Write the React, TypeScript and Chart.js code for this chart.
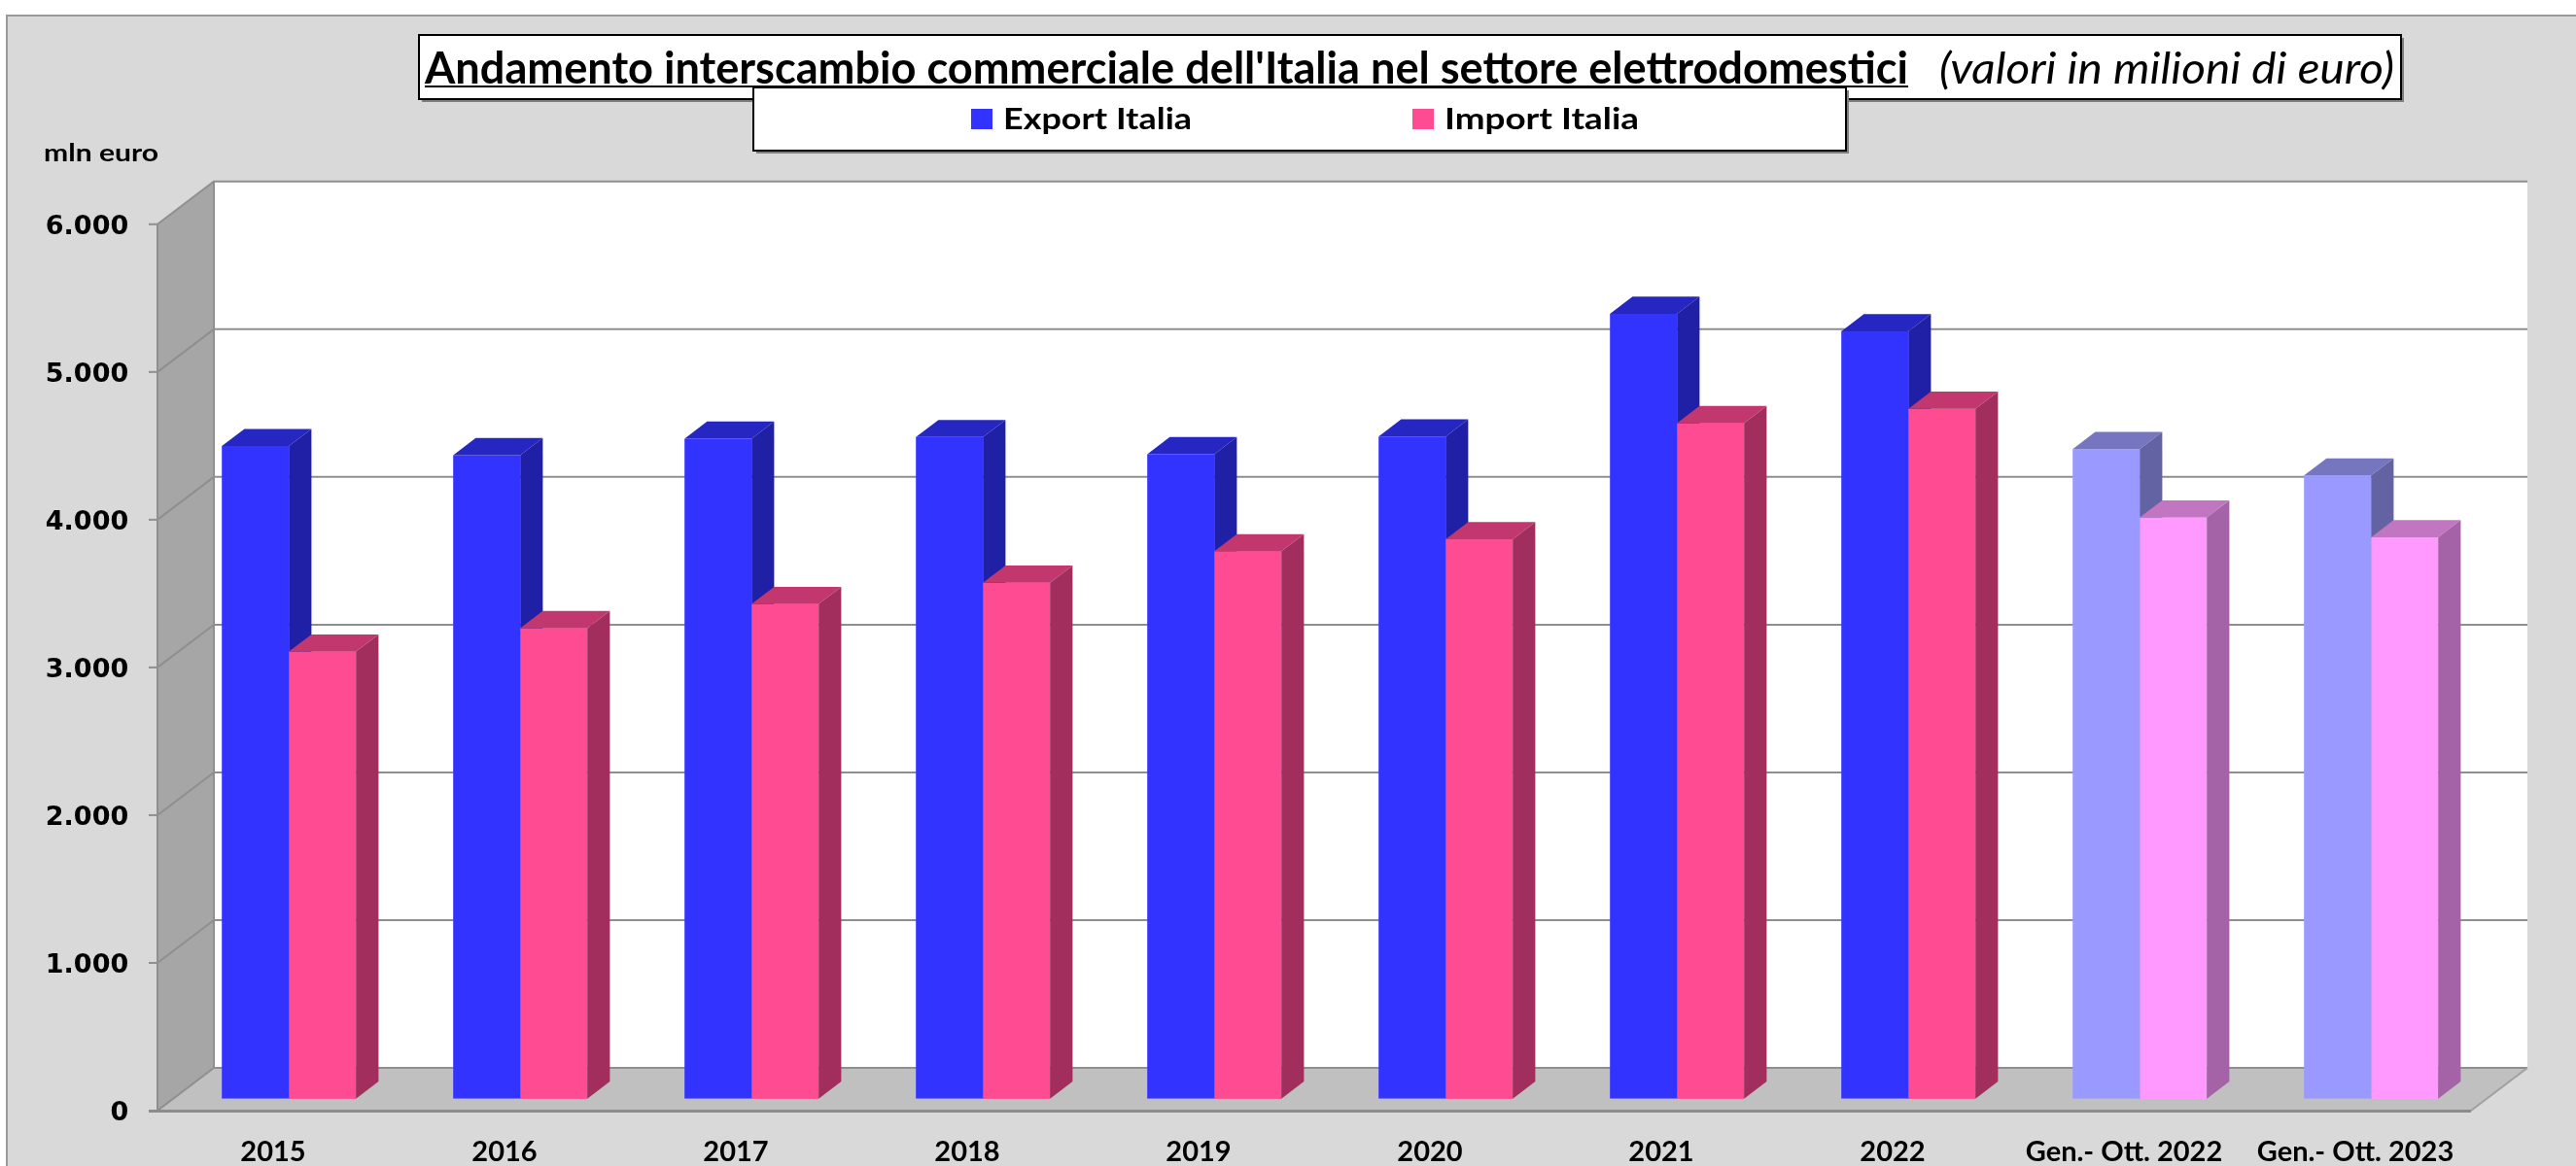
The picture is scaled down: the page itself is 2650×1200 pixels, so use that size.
import React, { useEffect, useRef } from "react";
import { Chart, registerables } from "chart.js";

Chart.register(...registerables);

// ---------------- data ----------------
const categories = [
  "2015",
  "2016",
  "2017",
  "2018",
  "2019",
  "2020",
  "2021",
  "2022",
  "Gen.- Ott. 2022",
  "Gen.- Ott. 2023",
];
const exportItalia = [4418, 4356, 4468, 4479, 4363, 4483, 5313, 5195, 4397, 4219];
const importItalia = [3027, 3185, 3349, 3493, 3706, 3787, 4573, 4670, 3934, 3800];
const seriesLabels = ["Export Italia", "Import Italia"];
const titleMain = "Andamento interscambio commerciale dell'Italia nel settore elettrodomestici";
const titleNote = "(valori in milioni di euro)";
const yUnit = "mln euro";
const yMax = 6000;
const yStep = 1000;
const partialFrom = 8; // index from which the (lighter) partial-year bars start

// colours: [front, top, side] for full-year / partial-year bars
const exportFull = ["#3333FF", "#2626C2", "#2020A6"];
const exportPart = ["#9999FF", "#7575C0", "#6363A3"];
const importFull = ["#FF4B91", "#C2386E", "#A22E5E"];
const importPart = ["#FF99FF", "#C276C2", "#A363A6"];

// ---------------- geometry (pixels) ----------------
const W = 2650;
const H = 1200;
const FRONT = { dx: -16.2, dy: 12.3 }; // front axis plane relative to bar front plane
const BACK = { dx: 41.8, dy: -31.7 }; // back wall relative to bar front plane
const BAR = { dx: 23.2, dy: -17.6 }; // bar depth

function fmt(v: number) {
  return String(v).replace(/\B(?=(\d{3})+(?!\d))/g, ".");
}

function fitText(
  ctx: CanvasRenderingContext2D,
  text: string,
  x: number,
  y: number,
  font: string,
  width: number
) {
  ctx.save();
  ctx.font = font;
  ctx.textAlign = "left";
  ctx.textBaseline = "alphabetic";
  const w = ctx.measureText(text).width;
  ctx.translate(x, y);
  ctx.scale(width / w, 1);
  ctx.fillText(text, 0, 0);
  ctx.restore();
}

function poly(ctx: CanvasRenderingContext2D, pts: number[][], fill: string) {
  ctx.beginPath();
  ctx.moveTo(pts[0][0], pts[0][1]);
  for (let i = 1; i < pts.length; i++) ctx.lineTo(pts[i][0], pts[i][1]);
  ctx.closePath();
  ctx.fillStyle = fill;
  ctx.fill();
}

function colorsFor(dsIndex: number, i: number) {
  if (dsIndex === 0) return i >= partialFrom ? exportPart : exportFull;
  return i >= partialFrom ? importPart : importFull;
}

function drawFaces(ctx: CanvasRenderingContext2D, el: any, c: string[]) {
  const { x, y, base, width } = el.getProps(["x", "y", "base", "width"], true);
  const l = x - width / 2;
  const r = x + width / 2;
  poly(
    ctx,
    [
      [l, y],
      [r, y],
      [r + BAR.dx, y + BAR.dy],
      [l + BAR.dx, y + BAR.dy],
    ],
    c[1]
  );
  poly(
    ctx,
    [
      [r, y],
      [r + BAR.dx, y + BAR.dy],
      [r + BAR.dx, base + BAR.dy],
      [r, base],
    ],
    c[2]
  );
}

const scenePlugin = {
  id: "scene3d",
  beforeDraw(chart: any) {
    const { ctx, chartArea: ca, scales } = chart;
    const y = scales.y;
    ctx.save();
    // outer area
    ctx.fillStyle = "#ffffff";
    ctx.fillRect(0, 0, W, H);
    ctx.fillStyle = "#d9d9d9";
    ctx.fillRect(6, 15, W - 6, H - 15);
    ctx.strokeStyle = "#9a9a9a";
    ctx.lineWidth = 2;
    ctx.beginPath();
    ctx.moveTo(7, H);
    ctx.lineTo(7, 16);
    ctx.lineTo(W, 16);
    ctx.stroke();

    const y0 = y.getPixelForValue(0);
    const yTop = y.getPixelForValue(yMax);
    const fl = ca.left + FRONT.dx;
    const fr = ca.right + FRONT.dx;
    const bl = ca.left + BACK.dx;
    const br = ca.right + BACK.dx;

    // back wall
    ctx.fillStyle = "#ffffff";
    ctx.fillRect(bl, yTop + BACK.dy, br - bl, y0 - yTop);
    // left wall
    poly(
      ctx,
      [
        [fl, yTop + FRONT.dy],
        [fl, y0 + FRONT.dy],
        [bl, y0 + BACK.dy],
        [bl, yTop + BACK.dy],
      ],
      "#a6a6a6"
    );
    // floor
    poly(
      ctx,
      [
        [fl, y0 + FRONT.dy],
        [fr, y0 + FRONT.dy],
        [br, y0 + BACK.dy],
        [bl, y0 + BACK.dy],
      ],
      "#c0c0c0"
    );

    // gridlines (back wall + left wall)
    ctx.strokeStyle = "#8f8f8f";
    ctx.lineWidth = 2;
    for (let v = 0; v <= yMax; v += yStep) {
      const py = y.getPixelForValue(v);
      ctx.beginPath();
      ctx.moveTo(fl, py + FRONT.dy);
      ctx.lineTo(bl, py + BACK.dy);
      if (v > 0) ctx.lineTo(br, py + BACK.dy);
      ctx.stroke();
      ctx.beginPath();
      ctx.moveTo(fl - 9, py + FRONT.dy);
      ctx.lineTo(fl, py + FRONT.dy);
      ctx.stroke();
    }
    ctx.beginPath();
    ctx.moveTo(bl, yTop + BACK.dy);
    ctx.lineTo(bl, y0 + BACK.dy);
    ctx.lineTo(br, y0 + BACK.dy);
    ctx.stroke();
    ctx.beginPath();
    ctx.moveTo(fl, yTop + FRONT.dy);
    ctx.lineTo(fl, y0 + FRONT.dy);
    ctx.stroke();
    ctx.strokeStyle = "#a0a0a0";
    ctx.beginPath();
    ctx.moveTo(fr, y0 + FRONT.dy);
    ctx.lineTo(br, y0 + BACK.dy);
    ctx.stroke();
    ctx.strokeStyle = "#8c8c8c";
    ctx.lineWidth = 3;
    ctx.beginPath();
    ctx.moveTo(fl - 9, y0 + FRONT.dy + 0.5);
    ctx.lineTo(fr, y0 + FRONT.dy + 0.5);
    ctx.stroke();
    ctx.restore();
  },
  afterDatasetsDraw(chart: any) {
    const { ctx } = chart;
    const m0 = chart.getDatasetMeta(0);
    const m1 = chart.getDatasetMeta(1);
    ctx.save();
    m0.data.forEach((el: any, i: number) => {
      drawFaces(ctx, el, colorsFor(0, i));
      const el1 = m1.data[i];
      if (el1) {
        el1.draw(ctx, chart.chartArea);
        drawFaces(ctx, el1, colorsFor(1, i));
      }
    });
    ctx.restore();
  },
  afterDraw(chart: any) {
    const { ctx } = chart;
    ctx.save();
    // title box
    ctx.fillStyle = "#7f7f7f";
    ctx.fillRect(434, 39, 2039, 66);
    ctx.fillStyle = "#ffffff";
    ctx.fillRect(431, 36, 2039, 66);
    ctx.strokeStyle = "#000000";
    ctx.lineWidth = 2;
    ctx.strokeRect(431, 36, 2039, 66);
    ctx.fillStyle = "#000000";
    fitText(ctx, titleMain, 437, 86, "bold 45px Lato", 1526);
    ctx.fillRect(437, 88, 1526, 2);
    fitText(ctx, titleNote, 1995, 86, "italic 45px Lato", 468);

    // legend box
    ctx.fillStyle = "#7f7f7f";
    ctx.fillRect(778, 93, 1124, 65);
    ctx.fillStyle = "#ffffff";
    ctx.fillRect(775, 90, 1124, 65);
    ctx.strokeStyle = "#000000";
    ctx.lineWidth = 2;
    ctx.strokeRect(775, 90, 1124, 65);
    const ds = chart.data.datasets;
    ctx.fillStyle = exportFull[0];
    ctx.fillRect(999, 112, 22, 21);
    ctx.fillStyle = "#000000";
    fitText(ctx, ds[0].label, 1032, 133, "bold 30px Lato", 194);
    ctx.fillStyle = importFull[0];
    ctx.fillRect(1453, 112, 22, 21);
    ctx.fillStyle = "#000000";
    fitText(ctx, ds[1].label, 1486, 133, "bold 30px Lato", 200);

    // unit label
    fitText(ctx, yUnit, 45, 166, "bold 25px Lato", 118);
    ctx.restore();
  },
};

export default function App() {
  const ref = useRef<HTMLCanvasElement | null>(null);

  useEffect(() => {
    if (!ref.current) return;
    const chart = new Chart(ref.current, {
      type: "bar",
      data: {
        labels: categories,
        datasets: [
          {
            label: seriesLabels[0],
            data: exportItalia,
            backgroundColor: exportItalia.map((_, i) => colorsFor(0, i)[0]),
            borderWidth: 0,
            barPercentage: 1,
            categoryPercentage: 138 / 238,
          },
          {
            label: seriesLabels[1],
            data: importItalia,
            backgroundColor: importItalia.map((_, i) => colorsFor(1, i)[0]),
            borderWidth: 0,
            barPercentage: 1,
            categoryPercentage: 138 / 238,
          },
        ],
      },
      options: {
        responsive: false,
        animation: false,
        devicePixelRatio: 1,
        layout: { padding: { top: 218.5, right: 91.8, bottom: 0, left: 0 } },
        plugins: {
          legend: { display: false },
          title: { display: false },
          tooltip: { enabled: false },
        },
        scales: {
          x: {
            grid: { display: false, drawTicks: false },
            border: { display: false },
            ticks: {
              autoSkip: false,
              maxRotation: 0,
              minRotation: 0,
              padding: 38,
              labelOffset: FRONT.dx,
              color: "#000000",
              font: { family: "Lato", weight: "bold", size: 29 },
            },
            afterFit: (s: any) => {
              s.height = 69.3;
            },
          },
          y: {
            min: 0,
            max: yMax,
            grid: { display: false, drawTicks: false },
            border: { display: false },
            ticks: {
              stepSize: yStep,
              padding: 46,
              labelOffset: 15,
              color: "#000000",
              font: { family: "DejaVu Sans", weight: "bold", size: 27 },
              callback: (v: any) => fmt(Number(v)),
            },
            afterFit: (s: any) => {
              s.width = 178.2;
            },
          },
        },
      },
      plugins: [scenePlugin],
    });
    return () => chart.destroy();
  }, []);

  return (
    <div style={{ position: "absolute", left: 0, top: 0, width: W, height: H }}>
      <canvas ref={ref} width={W} height={H} style={{ display: "block", width: W, height: H }} />
    </div>
  );
}
